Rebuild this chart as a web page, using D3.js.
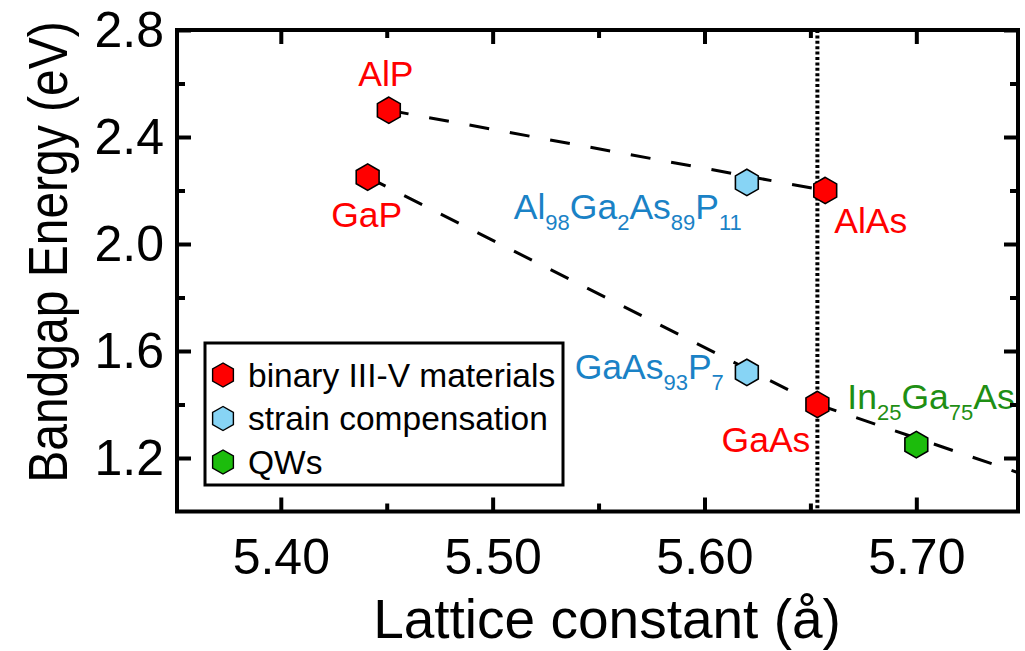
<!DOCTYPE html>
<html>
<head>
<meta charset="utf-8">
<script src="https://cdn.jsdelivr.net/npm/d3@7"></script>
<style>
  body { margin: 0; background: #fff; }
  svg text { font-family: "Liberation Sans", Arial, Helvetica, sans-serif; }
</style>
</head>
<body>
<svg id="chart" width="1025" height="651"></svg>
<script>
// ---- data: lattice constant (Å) and band gap (eV) ----
const binaryNames   = ["AlP", "GaP", "AlAs", "GaAs"];
const binaryLattice = [5.451, 5.441, 5.657, 5.6533];
const binaryGap     = [2.50, 2.25, 2.20, 1.40];

// label pieces: [text, isSubscript]
const strainLabels  = [
  [["Al",0],["98",1],["Ga",0],["2",1],["As",0],["89",1],["P",0],["11",1]],
  [["GaAs",0],["93",1],["P",0],["7",1]]
];
const strainLattice = [5.620, 5.620];
const strainGap     = [2.23, 1.52];

const qwLabels  = [[["In",0],["25",1],["Ga",0],["75",1],["As",0]]];
const qwLattice = [5.700];
const qwGap     = [1.25];

// Vegard-type guide lines
const guideAlPAlAsX = [5.451, 5.657];
const guideAlPAlAsY = [2.50, 2.20];
const guideGaPGaAsX = [5.441, 5.6533];
const guideGaPGaAsY = [2.25, 1.40];
const guideGaAsInAsX = [5.6533, 5.75];
const guideGaAsInAsY = [1.40, 1.14];

// reference lattice constant (GaAs substrate)
const substrateLattice = 5.6533;

const legendLabels = ["binary III-V materials", "strain compensation", "QWs"];

const xMajor = [5.40, 5.50, 5.60, 5.70];
const xMinor = [5.45, 5.55, 5.65];
const yMajor = [1.2, 1.6, 2.0, 2.4, 2.8];
const yMinor = [1.4, 1.8, 2.2, 2.6];

// ---- layout ----
const svg = d3.select("#chart");
const W = 1025, H = 651;
const m = { left: 177, right: 7, top: 30, bottom: 140 };
const x = d3.scaleLinear().domain([5.351, 5.748]).range([m.left, W - m.right]);
const y = d3.scaleLinear().domain([1.0, 2.8]).range([H - m.bottom + 0.5, m.top]);

const colors = {
  binary: "#ff0000", strain: "#87d4f5", qw: "#1cbc0c",
  binaryText: "#ff0000", strainText: "#1a82c6", qwText: "#1f8f14"
};

// hexagon with a vertex pointing up
const hexagon = {
  draw(ctx, size) {
    const r = Math.sqrt(size / (3 * Math.sqrt(3) / 2));
    for (let i = 0; i < 6; i++) {
      const a = Math.PI / 2 + i * Math.PI / 3;
      const px = r * Math.cos(a), py = -r * Math.sin(a);
      if (i === 0) ctx.moveTo(px, py); else ctx.lineTo(px, py);
    }
    ctx.closePath();
  }
};
const hexArea = r => 3 * Math.sqrt(3) / 2 * r * r;
const markerPath = d3.symbol().type(hexagon).size(hexArea(13.2));
const legendPath = d3.symbol().type(hexagon).size(hexArea(12));

svg.append("defs").append("clipPath").attr("id", "plotClip")
  .append("rect")
  .attr("x", x.range()[0]).attr("y", y.range()[1])
  .attr("width", x.range()[1] - x.range()[0])
  .attr("height", y.range()[0] - y.range()[1]);

const plot = svg.append("g").attr("clip-path", "url(#plotClip)");

// dotted vertical line at the substrate lattice constant
plot.append("line")
  .attr("x1", x(substrateLattice)).attr("x2", x(substrateLattice))
  .attr("y1", y.range()[1]).attr("y2", y.range()[0])
  .attr("stroke", "#000").attr("stroke-width", 4)
  .attr("stroke-dasharray", "3,2.4");

// dashed guide lines
const line = d3.line().x(d => x(d[0])).y(d => y(d[1]));
[[guideAlPAlAsX, guideAlPAlAsY], [guideGaPGaAsX, guideGaPGaAsY], [guideGaAsInAsX, guideGaAsInAsY]]
  .forEach(([gx, gy]) => {
    plot.append("path")
      .attr("d", line(d3.zip(gx, gy)))
      .attr("fill", "none").attr("stroke", "#000")
      .attr("stroke-width", 3).attr("stroke-dasharray", "20,21");
  });

// markers
function drawMarkers(lat, gap, fill) {
  plot.selectAll(null).data(d3.zip(lat, gap)).join("path")
    .attr("d", markerPath)
    .attr("transform", d => `translate(${x(d[0])},${y(d[1])})`)
    .attr("fill", fill).attr("stroke", "#000").attr("stroke-width", 1.6);
}
drawMarkers(binaryLattice, binaryGap, colors.binary);
drawMarkers(strainLattice, strainGap, colors.strain);
drawMarkers(qwLattice, qwGap, colors.qw);

// ---- point labels ----
function addLabel(parts, px, py, dx, dy, anchor, fill) {
  const t = svg.append("text")
    .attr("x", px + dx).attr("y", py + dy)
    .attr("text-anchor", anchor).attr("fill", fill)
    .style("font-size", "35.5px");
  let down = false;
  parts.forEach(([s, sub]) => {
    const ts = t.append("tspan").text(s);
    if (sub && !down) { ts.attr("dy", 11).style("font-size", "22px"); down = true; }
    else if (sub) { ts.style("font-size", "22px"); }
    else if (down) { ts.attr("dy", -11); down = false; }
  });
}
const binaryPlace = [
  { dx: -3, dy: -24, a: "middle" },
  { dx: -1, dy: 50, a: "middle" },
  { dx: 9, dy: 42, a: "start" },
  { dx: -7, dy: 47, a: "end" }
];
binaryNames.forEach((n, i) => {
  const p = binaryPlace[i];
  addLabel([[n, 0]], x(binaryLattice[i]), y(binaryGap[i]), p.dx, p.dy, p.a, colors.binaryText);
});
const strainPlace = [{ dx: -5, dy: 37, a: "end" }, { dx: -23, dy: 7, a: "end" }];
strainLabels.forEach((parts, i) => {
  const p = strainPlace[i];
  addLabel(parts, x(strainLattice[i]), y(strainGap[i]), p.dx, p.dy, p.a, colors.strainText);
});
const qwPlace = [{ dx: -69, dy: -36, a: "start" }];
qwLabels.forEach((parts, i) => {
  const p = qwPlace[i];
  addLabel(parts, x(qwLattice[i]), y(qwGap[i]), p.dx, p.dy, p.a, colors.qwText);
});

// ---- axes (ticks point inward on all four sides) ----
const fmtX = d3.format(".2f"), fmtY = d3.format(".1f");
const axisStyle = g => {
  g.select(".domain").remove();
  g.selectAll(".tick line").attr("stroke", "#000").attr("stroke-width", 4);
  g.selectAll(".tick text").attr("fill", "#000").style("font-size", "50px")
    .style("font-family", "'Liberation Sans', Arial, sans-serif");
};
const yb = y.range()[0], yt = y.range()[1], xl = x.range()[0], xr = x.range()[1];

svg.append("g").attr("transform", `translate(0,${yb})`)
  .call(d3.axisBottom(x).tickValues(xMajor).tickFormat(fmtX).tickSize(-14).tickPadding(27))
  .call(axisStyle);
svg.append("g").attr("transform", `translate(0,${yb})`)
  .call(d3.axisBottom(x).tickValues(xMinor).tickFormat("").tickSize(-8)).call(axisStyle);
svg.append("g").attr("transform", `translate(0,${yt})`)
  .call(d3.axisTop(x).tickValues(xMajor).tickFormat("").tickSize(-14)).call(axisStyle);
svg.append("g").attr("transform", `translate(0,${yt})`)
  .call(d3.axisTop(x).tickValues(xMinor).tickFormat("").tickSize(-8)).call(axisStyle);

svg.append("g").attr("transform", `translate(${xl},0)`)
  .call(d3.axisLeft(y).tickValues(yMajor).tickFormat(fmtY).tickSize(-14).tickPadding(13))
  .call(axisStyle);
svg.append("g").attr("transform", `translate(${xl},0)`)
  .call(d3.axisLeft(y).tickValues(yMinor).tickFormat("").tickSize(-8)).call(axisStyle);
svg.append("g").attr("transform", `translate(${xr},0)`)
  .call(d3.axisRight(y).tickValues(yMajor).tickFormat("").tickSize(-14)).call(axisStyle);
svg.append("g").attr("transform", `translate(${xr},0)`)
  .call(d3.axisRight(y).tickValues(yMinor).tickFormat("").tickSize(-8)).call(axisStyle);

// frame
svg.append("rect")
  .attr("x", xl).attr("y", yt).attr("width", xr - xl).attr("height", yb - yt)
  .attr("fill", "none").attr("stroke", "#000").attr("stroke-width", 4);

// axis titles
svg.append("text")
  .attr("x", 607).attr("y", 638)
  .attr("text-anchor", "middle").style("font-size", "55px").attr("fill", "#000")
  .text("Lattice constant (å)");
svg.append("text")
  .attr("transform", `translate(67,252) rotate(-90) scale(1,1.15)`)
  .attr("text-anchor", "middle").style("font-size", "48px").attr("fill", "#000")
  .text("Bandgap Energy (eV)");

// ---- legend ----
const lg = svg.append("g").attr("transform", "translate(205,343)");
lg.append("rect").attr("width", 358).attr("height", 142)
  .attr("fill", "#fff").attr("stroke", "#000").attr("stroke-width", 3);
const legendFill = [colors.binary, colors.strain, colors.qw];
legendLabels.forEach((lab, i) => {
  const row = lg.append("g").attr("transform", `translate(0,${32 + i * 43.5})`);
  row.append("path").attr("d", legendPath).attr("transform", "translate(18,0)")
    .attr("fill", legendFill[i]).attr("stroke", "#000").attr("stroke-width", 1.4);
  row.append("text").attr("x", 43).attr("y", 11.5)
    .style("font-size", "33.5px").attr("fill", "#000").text(lab);
});
</script>
</body>
</html>
